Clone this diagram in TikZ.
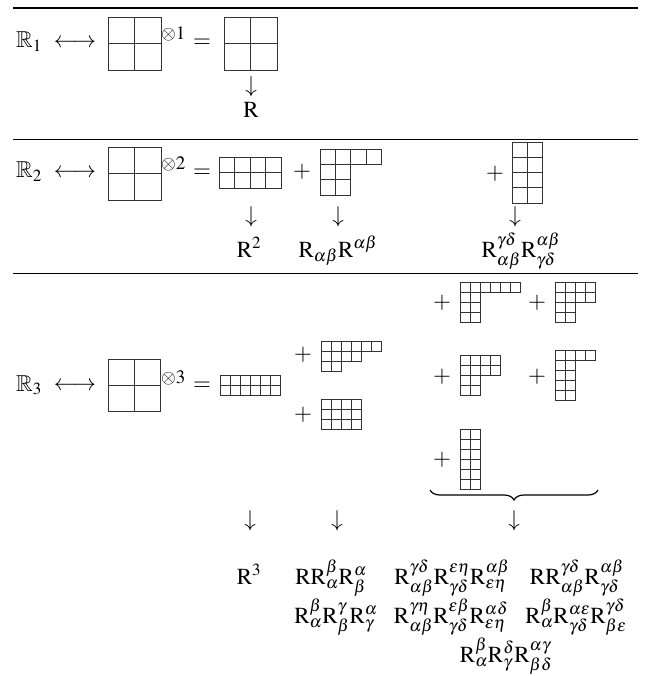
\documentclass[tikz,border=0pt]{standalone}
\usepackage{amssymb}
\usepackage{mathptmx}
\usepackage{fontspec}
\setmainfont{Liberation Serif}
\usetikzlibrary{decorations.pathreplacing}

\newcommand{\Rm}{\mathrm{R}}
% young diagram: left x, top y, cell size, row lengths
\newcommand{\ydiag}[4]{%
  \foreach \ylen [count=\yrow from 0] in {#4} {
    \foreach \ycol in {1,...,\ylen} {
      \draw[cell] ({#1+(\ycol-1)*#3}, {#2+\yrow*#3}) rectangle ++(#3,#3);
    }
  }
}

\begin{document}
\begin{tikzpicture}[x=1pt, y=-1pt, font=\fontsize{23}{27}\selectfont,
    cell/.style={draw=black!80, line width=0.8pt},
    rule/.style={line width=0.8pt},
    tens/.style={anchor=base west, font=\fontsize{19}{21}\selectfont, inner sep=0pt},
    lbl/.style={anchor=base, inner sep=0pt}]
    \useasboundingbox (0,0) rectangle (644,676);

    % separating rules
    \draw[rule, line width=1.3pt] (13,8) -- (638,8);
    \draw[rule] (13,139) -- (638,139);
    \draw[rule] (13,273) -- (638,273);

    % first row
    \node[anchor=base west, inner sep=0pt] (space1) at (16,48) {$\mathbb{R}_1$};
    \node (corr1) at (75,43) {$\longleftrightarrow$};
    \ydiag{108}{17}{26.5}{2,2}
    \node[tens] (pow1) at (161,40) {$\otimes1$};
    \node (eq1) at (202,43) {$=$};
    \ydiag{224}{17}{26.5}{2,2}
    \node (down1) at (251,87) {$\downarrow$};
    \node[lbl] (inv1) at (251,118) {$\Rm$};

    % second row
    \node[anchor=base west, inner sep=0pt] (space2) at (16,178) {$\mathbb{R}_2$};
    \node (corr2) at (75,173) {$\longleftrightarrow$};
    \ydiag{108}{147}{26.5}{2,2}
    \node[tens] (pow2) at (161,170) {$\otimes2$};
    \node (eq2) at (202,173) {$=$};
    \ydiag{219}{157}{15.5}{4,4}
    \node (plus2a) at (302,172) {$+$};
    \ydiag{320}{149}{15.4}{4,2,2}
    \node (plus2b) at (495,174) {$+$};
    \ydiag{512}{142}{15.3}{2,2,2,2}
    \node (down2a) at (251,217) {$\downarrow$};
    \node (down2b) at (338,217) {$\downarrow$};
    \node (down2c) at (515,217) {$\downarrow$};
    \node[lbl] (inv2a) at (249,257) {$\Rm^2$};
    \node[lbl] (inv2b) at (338,257) {$\Rm_{\alpha\beta}\Rm^{\alpha\beta}$};
    \node[lbl] (inv2c) at (521,257) {$\Rm^{\gamma\delta}_{\alpha\beta}\Rm^{\alpha\beta}_{\gamma\delta}$};

    % third row
    \node[anchor=base west, inner sep=0pt] (space3) at (16,391) {$\mathbb{R}_3$};
    \node (corr3) at (75,386) {$\longleftrightarrow$};
    \ydiag{108}{359}{26.3}{2,2}
    \node[tens] (pow3) at (161,383) {$\otimes3$};
    \node (eq3) at (202,386) {$=$};
    \ydiag{220}{375}{10}{6,6}
    \node (plus3a) at (303,355) {$+$};
    \ydiag{321}{341}{10}{6,4,2}
    \node (plus3b) at (303,415) {$+$};
    \ydiag{321}{399}{10}{4,4,4}
    \node (plus3c) at (442,303) {$+$};
    \ydiag{460}{282}{10}{6,2,2,2}
    \node (plus3d) at (537,303) {$+$};
    \ydiag{555}{282}{10}{4,4,2,2}
    \node (plus3e) at (442,377) {$+$};
    \ydiag{460}{355}{10}{4,4,2,2}
    \node (plus3f) at (537,377) {$+$};
    \ydiag{555}{350}{10}{4,2,2,2,2}
    \node (plus3g) at (442,460) {$+$};
    \ydiag{460}{429}{10}{2,2,2,2,2,2}
    \coordinate (braceL) at (430,490);
    \coordinate (braceR) at (598,490);
    \draw[line width=1.2pt, decorate, decoration={brace, mirror, amplitude=10pt}]
      (braceL) -- (braceR);
    \node (down3a) at (250,521) {$\downarrow$};
    \node (down3b) at (337,521) {$\downarrow$};
    \node (down3c) at (514,521) {$\downarrow$};
    \node[lbl] (inv3a) at (249,584) {$\Rm^3$};
    \node[lbl] (inv3b) at (331,584) {$\Rm\Rm^{\beta}_{\alpha}\Rm^{\alpha}_{\beta}$};
    \node[lbl] (inv3c) at (336,623) {$\Rm^{\beta}_{\alpha}\Rm^{\gamma}_{\beta}\Rm^{\alpha}_{\gamma}$};
    \node[lbl] (inv3d) at (452,584) {$\Rm^{\gamma\delta}_{\alpha\beta}\Rm^{\varepsilon\eta}_{\gamma\delta}\Rm^{\alpha\beta}_{\varepsilon\eta}$};
    \node[lbl] (inv3e) at (451,623) {$\Rm^{\gamma\eta}_{\alpha\beta}\Rm^{\varepsilon\beta}_{\gamma\delta}\Rm^{\alpha\delta}_{\varepsilon\eta}$};
    \node[lbl] (inv3f) at (577,584) {$\Rm\Rm^{\gamma\delta}_{\alpha\beta}\Rm^{\alpha\beta}_{\gamma\delta}$};
    \node[lbl] (inv3g) at (576,623) {$\Rm^{\beta}_{\alpha}\Rm^{\alpha\varepsilon}_{\gamma\delta}\Rm^{\gamma\delta}_{\beta\varepsilon}$};
    \node[lbl] (inv3h) at (506,662) {$\Rm^{\beta}_{\alpha}\Rm^{\delta}_{\gamma}\Rm^{\alpha\gamma}_{\beta\delta}$};
\end{tikzpicture}
\end{document}
